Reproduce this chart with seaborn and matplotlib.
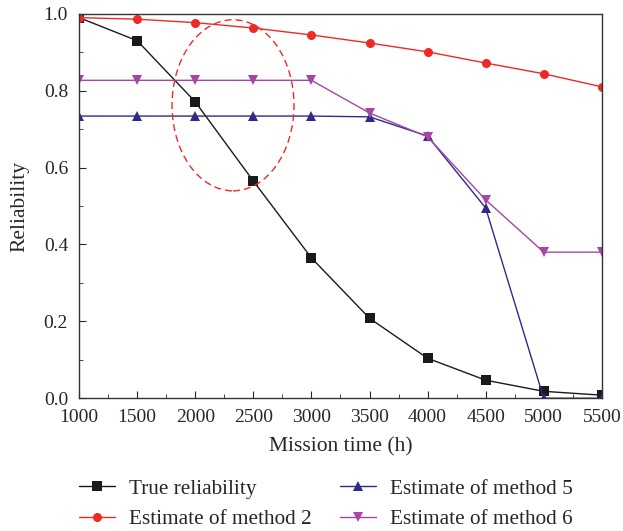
import pandas as pd
import numpy as np
import matplotlib.pyplot as plt
import seaborn as sns
from matplotlib.patches import Ellipse
from matplotlib.ticker import MultipleLocator

# data
mission_time = [1000, 1500, 2000, 2500, 3000, 3500, 4000, 4500, 5000, 5500]
true_rel = [0.990, 0.930, 0.771, 0.565, 0.365, 0.208, 0.104, 0.047, 0.018, 0.008]
method2 = [0.990, 0.986, 0.977, 0.963, 0.945, 0.924, 0.901, 0.872, 0.844, 0.810]
method5 = [0.734, 0.734, 0.734, 0.734, 0.734, 0.732, 0.682, 0.495, 0.0, 0.0]
method6 = [0.827, 0.827, 0.827, 0.827, 0.827, 0.742, 0.680, 0.516, 0.380, 0.380]
series_names = ["True reliability", "Estimate of method 2",
                "Estimate of method 5", "Estimate of method 6"]

df = pd.DataFrame({
    "time": mission_time * 4,
    "value": true_rel + method2 + method5 + method6,
    "series": np.repeat(series_names, len(mission_time)),
})

sns.set_style("ticks")
plt.rcParams['font.family'] = ['Liberation Serif', 'DejaVu Serif']

colors = {"True reliability": "#1a1a1a", "Estimate of method 2": "#ee2a24",
          "Estimate of method 5": "#2e2a8c", "Estimate of method 6": "#a646a6"}
markers = {"True reliability": "s", "Estimate of method 2": "o",
           "Estimate of method 5": "^", "Estimate of method 6": "v"}

fig = plt.figure(figsize=(6.23, 5.31), dpi=100)
ax = fig.add_axes([0.127, 0.250, 0.839, 0.724])

sns.lineplot(data=df, x="time", y="value", hue="series", style="series",
             palette=colors, markers=markers, dashes=False, markersize=6.5,
             markeredgewidth=0, linewidth=1.0, ax=ax, sort=False)

# dashed ellipse marking the region of interest
ax.add_patch(Ellipse((2325, 0.762), 1050, 0.445, fill=False, ec="#ee2a24",
                     ls=(0, (5, 3)), lw=1.0, zorder=5))

ax.set_xlim(1000, 5500)
ax.set_ylim(0, 1.0)
ax.xaxis.set_major_locator(MultipleLocator(500))
ax.xaxis.set_minor_locator(MultipleLocator(250))
ax.yaxis.set_major_locator(MultipleLocator(0.2))
ax.yaxis.set_minor_locator(MultipleLocator(0.1))
ax.yaxis.set_major_formatter(plt.FormatStrFormatter("%.1f"))
ax.tick_params(which="both", direction="in", labelsize=14, top=False, right=False)
ax.tick_params(axis="x", which="major", length=5, pad=8)
ax.tick_params(axis="y", which="major", length=5, pad=8)
ax.tick_params(which="minor", length=3)
for s in ax.spines.values():
    s.set_color("#333333")
    s.set_linewidth(1.0)

ax.set_xlabel("Mission time (h)", fontsize=15.5, labelpad=8)
ax.set_ylabel("Reliability", fontsize=15.5, labelpad=10)

handles, labels = ax.get_legend_handles_labels()
ax.legend(handles, labels, loc="upper left", bbox_to_anchor=(0, -0.21),
          ncol=2, frameon=False, fontsize=15.3, columnspacing=1.35,
          handlelength=1.7, handletextpad=0.65, labelspacing=0.5,
          borderpad=0, borderaxespad=0)

plt.savefig("out.png", dpi=100)
